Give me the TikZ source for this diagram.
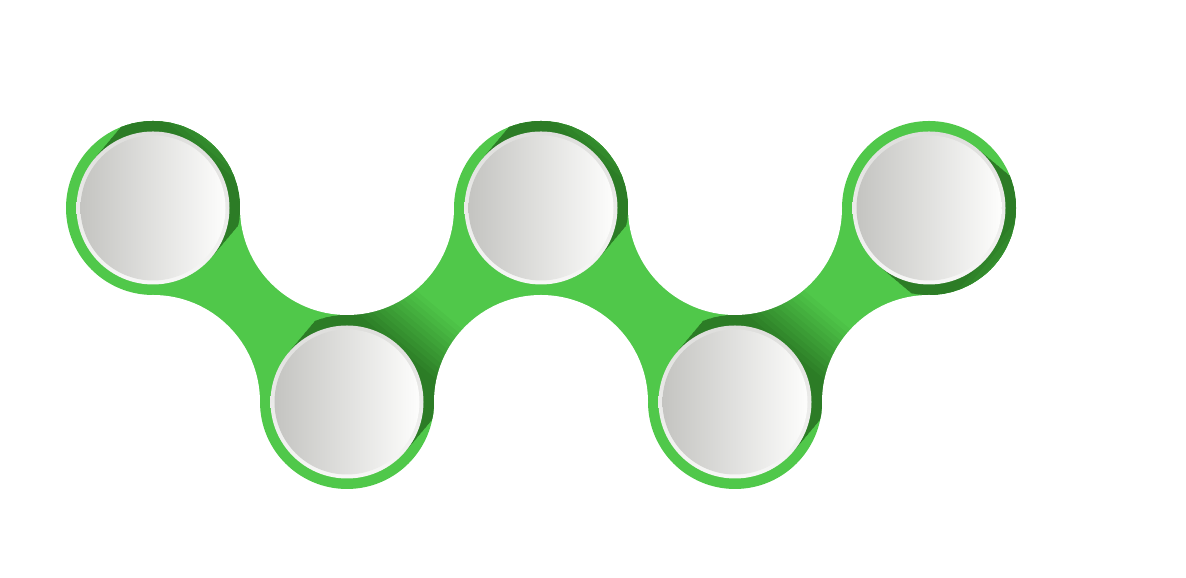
\documentclass[tikz,border=0pt]{standalone}
\usepackage{xcolor}
\usepackage{tikz}
\definecolor{leafgreen}{RGB}{80,200,74}
\definecolor{shadegreen}{RGB}{44,124,38}
\definecolor{rimdark}{RGB}{222,222,220}
\definecolor{rimlight}{RGB}{247,247,246}
\definecolor{discleft}{RGB}{196,196,193}
\definecolor{discright}{RGB}{253,253,252}
\tikzset{
  band/.style={fill=leafgreen},
  hole/.style={fill=white},
  rim/.style={top color=rimdark, bottom color=rimlight},
  disc/.style={left color=discleft, right color=discright}
}
% long shadow behind a disc: centre, direction
\newcommand{\longshadow}[2]{%
  \begin{scope}[shift={#1}, rotate=#2]
    \foreach \k in {0,...,27} {
      \pgfmathtruncatemacro{\mix}{max(0,min(100,100*(1.3-\k*0.05)/0.6))}
      \fill[shadegreen!\mix!leafgreen] ({\k*0.05},-0.765) rectangle ({(\k+1.5)*0.05},0.765);
    }
  \end{scope}}

\begin{document}
\begin{tikzpicture}
  \useasboundingbox (0,0) rectangle (11.86,5.78);
  \coordinate (c1) at (1.53,3.70);
  \coordinate (c2) at (3.47,1.76);
  \coordinate (c3) at (5.41,3.70);
  \coordinate (c4) at (7.35,1.76);
  \coordinate (c5) at (9.29,3.70);

  % Band
  \fill[band] (c2 -| c1) rectangle (c5);
  \foreach \c in {c1,c2,c3,c4,c5}
    \fill[band] (\c) circle (0.87);

  % Shadows
  \foreach \c in {c1,c3} {
    \begin{scope}
      \clip (\c) circle (0.87);
      \longshadow{(\c)}{50}
    \end{scope}
  }
  \begin{scope}
    \clip (c5) circle (0.87);
    \longshadow{(c5)}{-40}
  \end{scope}
  \foreach \c/\d in {c2/c3,c4/c5} {
    \begin{scope}
      \clip (\c) circle (0.87);
      \longshadow{(\c)}{50}
    \end{scope}
    \begin{scope}
      \clip (\c) rectangle (\d);
      \longshadow{(\c)}{50}
    \end{scope}
  }

  % Holes
  \foreach \h in {(3.47,3.70),(1.53,1.76),(5.41,1.76),(7.35,3.70),(9.29,1.76)}
    \fill[hole] \h circle (1.07);

  % Discs
  \foreach \c in {c1,c2,c3,c4,c5} {
    \shade[rim] (\c) circle (0.765);
    \shade[disc] (\c) circle (0.725);
  }
\end{tikzpicture}
\end{document}
